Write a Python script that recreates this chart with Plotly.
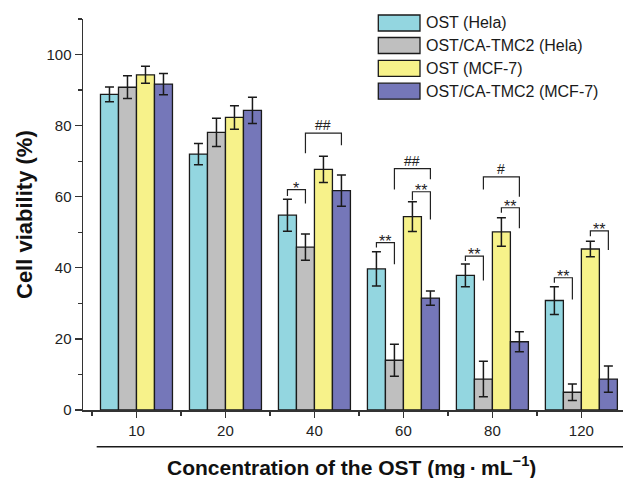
import plotly.graph_objects as go

# ---------------- data ----------------
categories = ["10", "20", "40", "60", "80", "120"]
series_names = ["OST (Hela)", "OST/CA-TMC2 (Hela)", "OST (MCF-7)", "OST/CA-TMC2 (MCF-7)"]

ost_hela = [88.8, 72.0, 54.8, 39.7, 37.9, 30.8]
ost_hela_err = [2.1, 3.0, 4.5, 4.8, 3.2, 3.9]
tmc_hela = [90.8, 78.1, 45.8, 14.0, 8.7, 5.0]
tmc_hela_err = [3.2, 4.0, 3.7, 4.5, 5.0, 2.3]
ost_mcf = [94.3, 82.3, 67.7, 54.4, 50.1, 45.3]
ost_mcf_err = [2.4, 3.3, 3.7, 4.2, 4.0, 2.2]
tmc_mcf = [91.7, 84.3, 61.7, 31.5, 19.2, 8.7]
tmc_mcf_err = [3.0, 3.7, 4.4, 2.0, 2.8, 3.7]

# significance marks: (group, bar_from, bar_to, bracket_top, left_leg_end, right_leg_end, label)
sig_marks = [
    (2, 0, 1, 62.0, 60.2, 58.1, "*"),
    (2, 1, 3, 77.9, 72.2, 74.5, "##"),
    (3, 0, 1, 47.1, 45.7, 41.0, "**"),
    (3, 1, 3, 67.9, 62.0, 64.9, "##"),
    (3, 2, 3, 61.4, 59.0, 53.6, "**"),
    (4, 0, 1, 43.3, 41.9, 36.4, "**"),
    (4, 1, 3, 65.6, 62.0, 60.0, "#"),
    (4, 2, 3, 56.9, 55.5, 51.1, "**"),
    (5, 0, 1, 37.2, 35.8, 31.1, "**"),
    (5, 2, 3, 50.4, 48.9, 45.0, "**"),
]

colors = ["#93D6E0", "#BFBFBF", "#F7F28A", "#7577B9"]
values = [ost_hela, tmc_hela, ost_mcf, tmc_mcf]
errors = [ost_hela_err, tmc_hela_err, ost_mcf_err, tmc_mcf_err]

FONT = "Arial, Liberation Sans, Helvetica, sans-serif"
BARGAP = 0.191
W = (1 - BARGAP) / 4
xpos = list(range(len(categories)))

fig = go.Figure()
for name, vals, errs, col in zip(series_names, values, errors, colors):
    fig.add_trace(go.Bar(
        x=xpos, y=vals, name=name,
        marker=dict(color=col, line=dict(color="#1a1a1a", width=1.3)),
        error_y=dict(type="data", array=errs, color="#1a1a1a", thickness=1.5, width=4.5),
        showlegend=False, hoverinfo="skip",
    ))

shapes = []
annotations = []
for g, a, b, top, yl, yr, lab in sig_marks:
    x0 = g + (a - 1.5) * W
    x1 = g + (b - 1.5) * W
    shapes.append(dict(type="path", xref="x", yref="y",
                       path=f"M {x0},{yl} L {x0},{top} L {x1},{top} L {x1},{yr}",
                       line=dict(color="#222", width=1.2)))
    star = "*" in lab
    annotations.append(dict(x=(x0 + x1) / 2, y=top, xref="x", yref="y", text=lab,
                            showarrow=False, yanchor="bottom", xanchor="center",
                            yshift=-9 if star else -2,
                            font=dict(family=FONT, size=16 if star else 14, color="#222")))

# plot geometry in pixels (for paper coords)
L, R, T, B = 83, 0, 19, 68
WIDTH, HEIGHT = 623, 478
PW = WIDTH - L - R
PH = HEIGHT - T - B

def px_x(p):
    return (p - L) / PW

def px_y(p):
    return (HEIGHT - B - p) / PH

# manual legend
leg_rows = [23, 45.5, 68.3, 91.2]
for name, col, yc in zip(series_names, colors, leg_rows):
    shapes.append(dict(type="rect", xref="paper", yref="paper",
                       x0=px_x(378.3), x1=px_x(420), y0=px_y(yc + 8), y1=px_y(yc - 8),
                       fillcolor=col, line=dict(color="#1a1a1a", width=1.3)))
    annotations.append(dict(x=px_x(424), y=px_y(yc), xref="paper", yref="paper",
                            text=name, showarrow=False, xanchor="left", yanchor="middle",
                            font=dict(family=FONT, size=16, color="#1a1a1a")))

# rule below x tick labels
shapes.append(dict(type="line", xref="paper", yref="paper",
                   x0=px_x(96.7), x1=1.0, y0=px_y(446.7), y1=px_y(446.7),
                   line=dict(color="#1a1a1a", width=1.5)))

# axis titles
annotations.append(dict(x=px_x(351), y=px_y(466), xref="paper", yref="paper",
                        text="Concentration of the OST (mg\u2009\u00b7\u2009mL<sup>\u22121</sup>)",
                        showarrow=False, xanchor="center", yanchor="middle",
                        font=dict(family=FONT, size=21, color="#111", weight="bold")))
annotations.append(dict(x=px_x(24.5), y=0.5, xref="paper", yref="paper",
                        text="Cell viability (%)", textangle=-90,
                        showarrow=False, xanchor="center", yanchor="middle",
                        font=dict(family=FONT, size=22, color="#111", weight="bold")))

fig.update_layout(
    width=WIDTH, height=HEIGHT,
    margin=dict(l=L, r=R, t=T, b=B, pad=0),
    barmode="group", bargap=BARGAP, bargroupgap=0,
    plot_bgcolor="white", paper_bgcolor="white",
    shapes=shapes, annotations=annotations,
    showlegend=False, hovermode=False,
    font=dict(family=FONT, color="#222"),
)
fig.update_xaxes(
    range=[-0.601, -0.601 + PW / 88.98],
    tickmode="array", tickvals=xpos, ticktext=categories,
    showline=True, linecolor="#333", linewidth=1.5, mirror=False,
    ticks="outside", ticklen=6, tickwidth=1.3, tickcolor="#333",
    minor=dict(tickmode="array", tickvals=[i - 0.5 for i in range(len(categories) + 1)],
               ticks="outside", ticklen=4, tickwidth=1.3, tickcolor="#333"),
    showgrid=False, zeroline=False,
    tickfont=dict(family=FONT, size=15, color="#222"),
)
fig.update_yaxes(
    range=[0, 110], tick0=0, dtick=20,
    showline=True, linecolor="#333", linewidth=1.5,
    ticks="outside", ticklen=7, tickwidth=1.3, tickcolor="#333",
    minor=dict(dtick=10, tick0=0, ticks="outside", ticklen=4, tickwidth=1.3, tickcolor="#333"),
    showgrid=False, zeroline=False,
    tickfont=dict(family=FONT, size=15, color="#222"),
)

fig.write_html(
    "out.html",
    config={"displayModeBar": False, "staticPlot": True},
    post_script="document.body.style.margin='0';document.body.style.overflow='hidden';",
)
